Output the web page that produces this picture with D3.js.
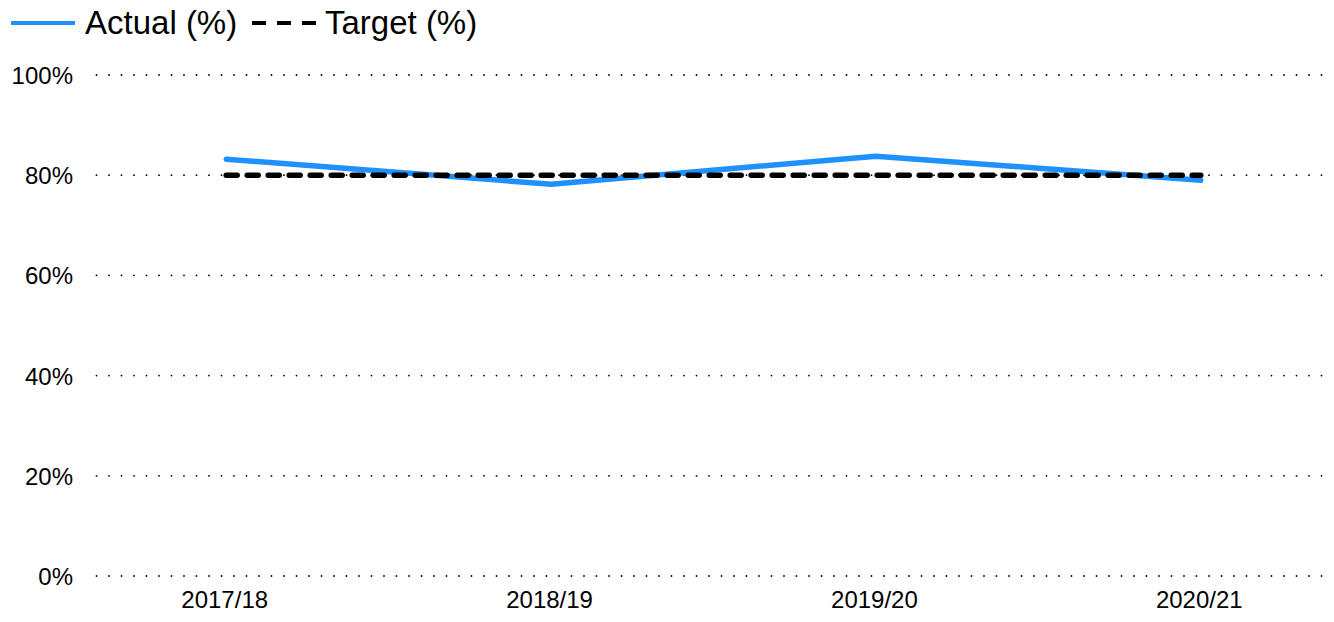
<!DOCTYPE html>
<html>
<head>
<meta charset="utf-8">
<script src="https://cdn.jsdelivr.net/npm/d3@7"></script>
<style>
  body { margin: 0; background: #fff; }
  svg text { font-family: "Liberation Sans", Arial, sans-serif; fill: #000; }
</style>
</head>
<body>
<div id="chart"></div>
<script>
var w = 1334, h = 622;

// data
var years = ["2017/18", "2018/19", "2019/20", "2020/21"];
var actual = [83.2, 78.2, 83.8, 79.0];
var target = [80, 80, 80, 80];
var yTicks = [0, 20, 40, 60, 80, 100];

var svg = d3.select("#chart").append("svg")
  .attr("width", w).attr("height", h);

var x = d3.scalePoint().domain(years).range([93, 1334]).padding(0.41);
var y = d3.scaleLinear().domain([0, 100]).range([576, 75]);

// dotted gridlines
svg.append("g").selectAll("line")
  .data(yTicks).enter().append("line")
  .attr("x1", 96.5).attr("x2", 1334)
  .attr("y1", function(d){ return y(d); })
  .attr("y2", function(d){ return y(d); })
  .attr("stroke", "#000")
  .attr("stroke-width", 1.8)
  .attr("stroke-linecap", "round")
  .attr("stroke-dasharray", "0,12.5");

// y axis labels
var yAxis = d3.axisLeft(y).tickValues(yTicks)
  .tickFormat(function(d){ return d + "%"; })
  .tickSize(0).tickPadding(0);
var ya = svg.append("g").attr("transform", "translate(73,0)").call(yAxis);
ya.select(".domain").remove();
ya.selectAll("text").style("font-size", "24px").attr("font-family", null).attr("dy", "0.35em");

// x axis labels
var xAxis = d3.axisBottom(x).tickSize(0).tickPadding(0);
var xa = svg.append("g").attr("transform", "translate(-2,591)").call(xAxis);
xa.select(".domain").remove();
xa.selectAll("text").style("font-size", "24px").attr("font-family", null).attr("dy", "0.72em");

var line = d3.line()
  .x(function(d, i){ return x(years[i]); })
  .y(function(d){ return y(d); });

svg.append("path").datum(actual)
  .attr("d", line)
  .attr("fill", "none")
  .attr("stroke", "#1e90ff")
  .attr("stroke-width", 5.5)
  .attr("stroke-linecap", "round")
  .attr("stroke-linejoin", "round");

svg.append("path").datum(target)
  .attr("d", line)
  .attr("fill", "none")
  .attr("stroke", "#000")
  .attr("stroke-width", 5.5)
  .attr("stroke-linecap", "round")
  .attr("stroke-dasharray", "11,10");

// legend
var lg = svg.append("g");
lg.append("line").attr("x1", 11).attr("x2", 75).attr("y1", 23).attr("y2", 23)
  .attr("stroke", "#1e90ff").attr("stroke-width", 4);
lg.append("text").attr("x", 85).attr("y", 34).style("font-size", "33px").text("Actual (%)");
lg.append("line").attr("x1", 252).attr("x2", 316).attr("y1", 23).attr("y2", 23)
  .attr("stroke", "#000").attr("stroke-width", 4)
  .attr("stroke-dasharray", "14,11");
lg.append("text").attr("x", 325).attr("y", 34).style("font-size", "33px").text("Target (%)");
</script>
</body>
</html>
